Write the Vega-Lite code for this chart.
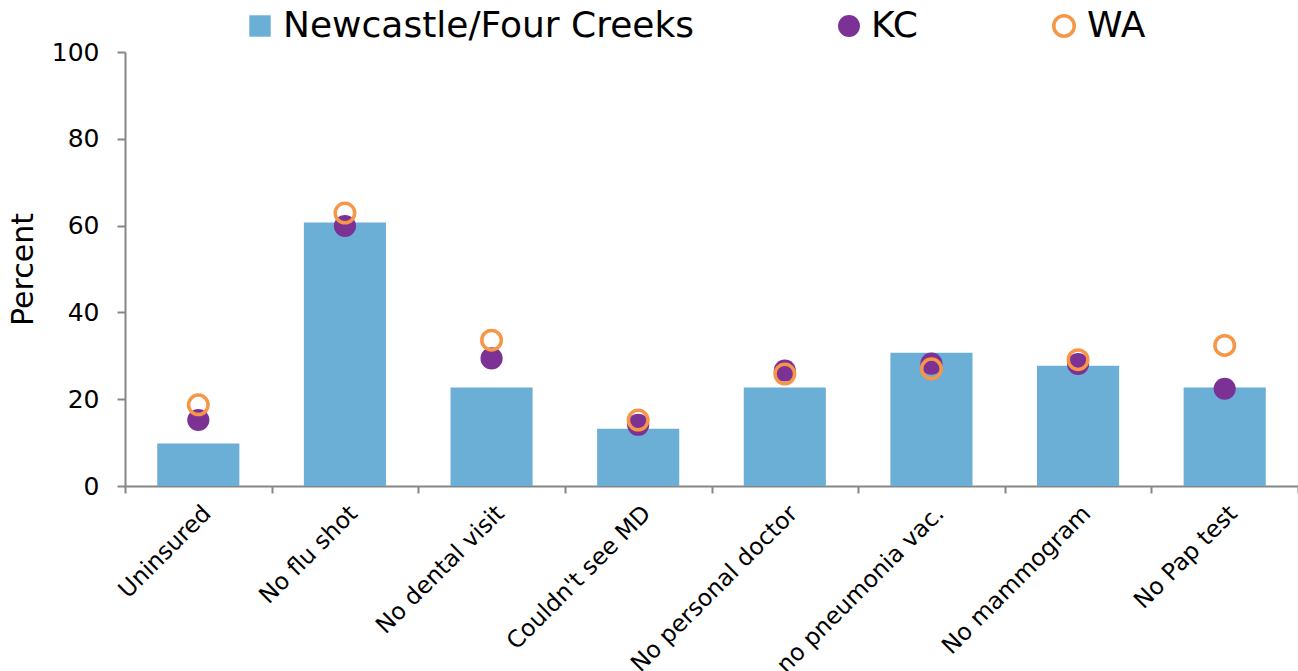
{
  "$schema": "https://vega.github.io/schema/vega-lite/v6.json",
  "width": 1173,
  "height": 434,
  "autosize": {"type": "none"},
  "padding": {"left": 125, "top": 52, "right": 0, "bottom": 185},
  "background": "white",
  "config": {
    "view": {"stroke": null},
    "font": "DejaVu Sans",
    "axis": {"domainColor": "#868686", "tickColor": "#868686", "domainWidth": 2, "tickWidth": 2, "labelColor": "#000000", "titleColor": "#000000", "grid": false}
  },
  "data": {
    "values": [
      {"measure": "Uninsured", "nfc": 9.8, "kc": 15.2, "wa": 18.7},
      {"measure": "No flu shot", "nfc": 60.7, "kc": 59.9, "wa": 62.9},
      {"measure": "No dental visit", "nfc": 22.7, "kc": 29.4, "wa": 33.6},
      {"measure": "Couldn't see MD", "nfc": 13.2, "kc": 14.1, "wa": 15.2},
      {"measure": "No personal doctor", "nfc": 22.7, "kc": 26.6, "wa": 25.8},
      {"measure": "no pneumonia vac.", "nfc": 30.7, "kc": 28.2, "wa": 27.0},
      {"measure": "No mammogram", "nfc": 27.7, "kc": 28.1, "wa": 29.1},
      {"measure": "No Pap test", "nfc": 22.7, "kc": 22.4, "wa": 32.4}
    ]
  },
  "encoding": {
    "x": {
      "field": "measure",
      "type": "nominal",
      "sort": null,
      "scale": {"paddingInner": 0, "paddingOuter": 0},
      "axis": {"title": null, "labelAngle": -45, "labelFontSize": 23.5, "labelPadding": 8, "tickBand": "extent", "tickSize": 7, "labelLimit": 400}
    }
  },
  "layer": [
    {
      "mark": {"type": "bar", "width": {"band": 0.56}},
      "encoding": {
        "y": {
          "field": "nfc",
          "type": "quantitative",
          "scale": {"domain": [0, 100], "nice": false},
          "axis": {"title": "Percent", "titleFontSize": 30, "titleFontWeight": "normal", "titlePadding": 13, "labelFontSize": 25, "labelPadding": 18, "tickSize": 8, "values": [0, 20, 40, 60, 80, 100]}
        },
        "color": {
          "datum": "Newcastle/Four Creeks",
          "type": "nominal",
          "scale": {"range": ["#6baed6"]},
          "legend": {"title": null, "orient": "none", "legendX": 117, "legendY": -44, "symbolType": "square", "symbolSize": 460, "labelFontSize": 36, "labelOffset": 5, "labelLimit": 600, "symbolStrokeWidth": 0}
        }
      }
    },
    {
      "mark": {"type": "point", "filled": true, "size": 490, "shape": "circle", "opacity": 1},
      "encoding": {
        "y": {"field": "kc", "type": "quantitative"},
        "fill": {
          "datum": "KC",
          "type": "nominal",
          "scale": {"range": ["#7b3294"]},
          "legend": {"title": null, "orient": "none", "legendX": 706, "legendY": -44, "symbolType": "circle", "symbolSize": 480, "labelFontSize": 36, "labelOffset": 4, "symbolStrokeWidth": 0}
        }
      }
    },
    {
      "mark": {"type": "point", "filled": false, "size": 380, "strokeWidth": 3.5, "shape": "circle", "opacity": 1},
      "encoding": {
        "y": {"field": "wa", "type": "quantitative"},
        "stroke": {
          "datum": "WA",
          "type": "nominal",
          "scale": {"range": ["#f79646"]},
          "legend": {"title": null, "orient": "none", "legendX": 921, "legendY": -44, "symbolType": "circle", "symbolSize": 420, "symbolStrokeWidth": 3.5, "labelFontSize": 36, "labelOffset": 5}
        }
      }
    }
  ],
  "resolve": {"scale": {"color": "independent", "fill": "independent", "stroke": "independent"}}
}
